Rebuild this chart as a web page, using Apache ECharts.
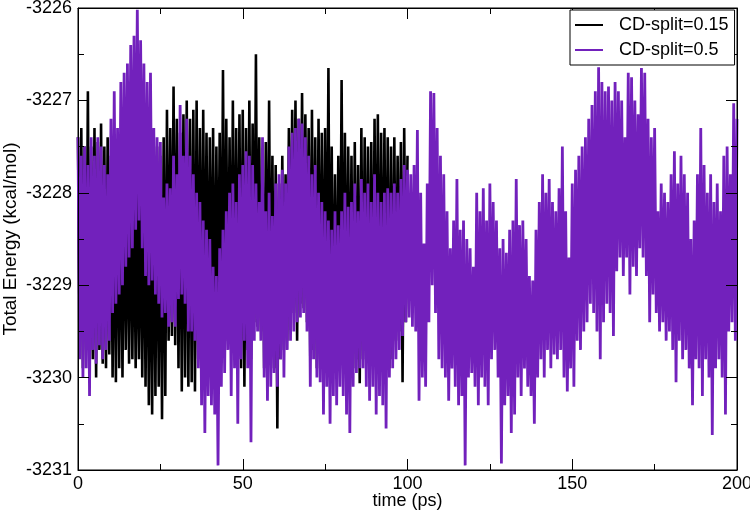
<!DOCTYPE html>
<html>
<head>
<meta charset="utf-8">
<script src="https://cdn.jsdelivr.net/npm/echarts@6/dist/echarts.min.js"></script>
<style>html,body{margin:0;padding:0;background:#fff}#c{width:750px;height:514px}</style>
</head>
<body>
<div id="c"></div>
<script>
// CD-split=0.5 : upper swings at t = 0,1,...,200 ps and lower swings at t = 0.5,1.5,...,199.5 ps
const purpleHi = [
-3227.4,-3227.6,-3227.5,-3227.7,-3227.4,-3227.6,-3227.4,-3227.5,-3227.7,-3227.8,
-3227.2,-3226.9,-3227.3,-3226.8,-3226.7,-3226.6,-3226.4,-3226.3,-3226.02,-3226.35,
-3226.6,-3226.8,-3226.7,-3227.3,-3227.4,-3227.45,-3228.05,-3227.9,-3227.95,-3227.6,
-3227.8,-3227.05,-3227.6,-3227.2,-3227.6,-3227.8,-3228.0,-3228.1,-3228.3,-3228.4,
-3228.5,-3228.8,-3228.9,-3228.6,-3228.4,-3228.2,-3228.0,-3227.9,-3228.1,-3227.8,
-3227.7,-3227.55,-3227.6,-3227.7,-3227.9,-3228.1,-3227.4,-3228.2,-3228.0,-3228.25,
-3227.9,-3227.8,-3227.75,-3227.9,-3227.5,-3227.35,-3227.3,-3227.2,-3227.25,-3227.4,
-3227.6,-3227.8,-3227.7,-3228.0,-3228.1,-3228.2,-3228.3,-3228.4,-3228.2,-3228.35,
-3228.2,-3228.0,-3228.15,-3228.1,-3227.9,-3228.2,-3227.85,-3228.0,-3227.9,-3228.1,
-3227.8,-3228.0,-3228.1,-3228.0,-3227.95,-3228.0,-3227.9,-3228.0,-3227.85,-3227.7,
-3227.75,-3227.8,-3227.7,-3227.32,-3228.0,-3228.55,-3227.9,-3226.9,-3226.92,-3227.3,
-3227.6,-3227.8,-3228.2,-3228.6,-3228.3,-3227.85,-3228.4,-3228.3,-3228.5,-3228.6,
-3228.8,-3228.0,-3228.2,-3227.95,-3228.3,-3227.9,-3228.1,-3228.3,-3228.6,-3228.5,
-3228.65,-3228.4,-3228.3,-3227.85,-3228.35,-3228.3,-3228.5,-3228.9,-3228.95,-3228.4,
-3228.1,-3227.8,-3228.0,-3227.85,-3228.1,-3228.2,-3227.95,-3227.5,-3228.2,-3228.7,
-3227.9,-3227.75,-3227.6,-3227.5,-3227.4,-3227.2,-3227.05,-3226.9,-3226.64,-3226.8,
-3226.9,-3226.85,-3227.0,-3226.8,-3226.9,-3227.0,-3227.4,-3226.7,-3226.75,-3227.0,
-3227.15,-3226.65,-3226.7,-3227.2,-3227.4,-3227.3,-3228.2,-3227.9,-3228.0,-3228.1,
-3227.8,-3227.55,-3227.9,-3227.6,-3227.8,-3228.0,-3228.5,-3228.3,-3227.8,-3227.3,
-3227.7,-3228.0,-3227.8,-3228.1,-3227.9,-3228.2,-3227.6,-3227.5,-3227.8,-3227.03,
-3227.2
];
const purpleLo = [
-3229.8,-3230.0,-3229.9,-3230.2,-3229.7,-3229.85,-3229.65,-3229.8,-3229.7,-3229.6,
-3229.3,-3229.2,-3229.1,-3229.0,-3228.8,-3228.7,-3228.6,-3228.4,-3228.3,-3228.6,
-3228.9,-3229.0,-3228.95,-3229.1,-3229.2,-3229.35,-3229.3,-3229.45,-3229.4,-3229.45,
-3229.15,-3229.1,-3229.2,-3229.5,-3229.5,-3229.6,-3229.9,-3230.3,-3230.6,-3230.2,
-3230.3,-3230.4,-3230.95,-3230.1,-3229.95,-3229.7,-3230.2,-3229.9,-3230.5,-3229.8,
-3229.6,-3229.9,-3230.7,-3229.6,-3229.5,-3229.6,-3230.0,-3230.25,-3230.1,-3229.95,
-3230.1,-3229.8,-3230.0,-3229.7,-3229.6,-3229.5,-3229.4,-3229.35,-3229.3,-3229.5,
-3230.1,-3229.8,-3230.0,-3230.05,-3230.4,-3230.1,-3230.5,-3230.2,-3230.3,-3230.1,
-3230.2,-3230.4,-3230.6,-3230.1,-3229.95,-3229.9,-3229.9,-3230.1,-3230.25,-3230.1,
-3230.4,-3230.2,-3230.3,-3230.55,-3230.0,-3229.9,-3229.8,-3229.7,-3229.55,-3229.4,
-3229.35,-3229.45,-3229.5,-3230.25,-3230.0,-3230.1,-3229.4,-3229.0,-3229.3,-3229.8,
-3229.9,-3230.0,-3230.25,-3229.9,-3230.1,-3230.3,-3230.2,-3230.95,-3230.0,-3229.95,
-3230.1,-3230.3,-3230.0,-3230.1,-3230.3,-3229.8,-3229.7,-3230.0,-3230.93,-3230.3,
-3230.2,-3230.6,-3230.4,-3230.0,-3230.2,-3229.9,-3230.1,-3230.2,-3230.5,-3230.0,
-3229.8,-3230.0,-3229.7,-3229.9,-3229.75,-3229.8,-3229.7,-3230.0,-3230.15,-3229.9,
-3230.1,-3229.6,-3229.7,-3229.5,-3229.4,-3229.2,-3229.3,-3229.5,-3229.8,-3229.4,
-3229.2,-3229.3,-3229.55,-3228.85,-3228.7,-3228.9,-3228.7,-3229.1,-3228.8,-3228.9,
-3228.6,-3228.7,-3228.9,-3229.4,-3229.1,-3229.3,-3229.5,-3229.4,-3229.6,-3229.5,
-3229.7,-3230.05,-3229.6,-3229.8,-3229.7,-3229.9,-3230.3,-3229.8,-3229.9,-3230.2,
-3229.8,-3230.0,-3230.62,-3229.9,-3229.8,-3230.0,-3230.4,-3229.5,-3229.4,-3229.6
];
// CD-split=0.15 : upper swings at t = 0..100 ps, lower swings at t = 0.5..99.5 ps
const blackHi = [
-3227.4,-3227.3,-3227.5,-3226.9,-3227.5,-3227.3,-3227.45,-3227.25,-3227.5,-3227.4,
-3227.6,-3227.8,-3227.5,-3227.7,-3227.6,-3227.8,-3227.7,-3227.9,-3228.0,-3227.8,
-3227.7,-3227.6,-3227.8,-3227.6,-3227.5,-3227.6,-3227.4,-3227.1,-3227.3,-3226.85,
-3227.2,-3227.35,-3227.15,-3227.0,-3227.2,-3227.1,-3227.0,-3227.3,-3227.1,-3227.35,
-3227.4,-3227.3,-3227.5,-3227.35,-3226.67,-3227.2,-3227.4,-3227.0,-3227.3,-3227.15,
-3227.1,-3227.3,-3227.0,-3227.25,-3226.5,-3227.4,-3227.6,-3227.45,-3227.0,-3227.6,
-3227.7,-3227.9,-3227.6,-3227.8,-3227.3,-3227.1,-3227.0,-3227.2,-3226.92,-3227.15,
-3227.3,-3227.1,-3227.4,-3227.2,-3227.35,-3227.3,-3226.65,-3227.5,-3227.8,-3227.6,
-3226.78,-3227.35,-3227.5,-3227.6,-3227.45,-3227.7,-3227.3,-3227.4,-3227.5,-3227.45,
-3227.2,-3227.15,-3227.35,-3227.3,-3227.4,-3227.5,-3227.4,-3227.6,-3227.45,-3227.3,
-3227.6
];
const blackLo = [
-3229.6,-3229.9,-3229.7,-3230.05,-3229.8,-3230.0,-3229.7,-3229.85,-3229.9,-3229.75,
-3230.0,-3230.05,-3229.9,-3230.0,-3229.7,-3229.85,-3229.8,-3229.9,-3229.8,-3230.0,
-3230.1,-3230.3,-3230.4,-3230.2,-3230.1,-3230.45,-3230.2,-3229.6,-3229.55,-3229.65,
-3229.9,-3230.15,-3230.0,-3230.1,-3230.05,-3230.15,-3229.8,-3229.9,-3229.7,-3229.8,
-3229.7,-3229.9,-3229.6,-3229.8,-3229.7,-3229.6,-3229.6,-3229.8,-3229.7,-3229.9,
-3230.1,-3229.7,-3229.8,-3229.4,-3229.45,-3229.5,-3229.9,-3229.7,-3229.8,-3229.9,
-3230.55,-3229.8,-3229.7,-3229.6,-3229.4,-3229.3,-3229.6,-3229.2,-3229.25,-3229.4,
-3229.8,-3229.7,-3229.9,-3229.8,-3229.9,-3229.7,-3229.8,-3229.9,-3229.8,-3229.7,
-3229.9,-3229.8,-3229.7,-3229.9,-3229.8,-3230.06,-3229.8,-3229.7,-3229.9,-3229.8,
-3229.7,-3229.9,-3229.8,-3229.7,-3229.9,-3229.8,-3229.6,-3229.5,-3230.05,-3229.4
];
const seriesNames = ['CD-split=0.15', 'CD-split=0.5'];
const xTicks = {min: 0, max: 200, interval: 50};
const yTicks = {min: -3231, max: -3226, interval: 1};

function weave(hi, lo) {
  const out = [];
  for (let i = 0; i < hi.length; i++) {
    out.push([i, hi[i]]);
    if (i < lo.length) out.push([i + 0.5, lo[i]]);
  }
  return out;
}

const FONT = 'Liberation Sans';
const axisCommon = {
  type: 'value', z: 5,
  axisLine: {show: true, onZero: false, lineStyle: {color: '#000', width: 1}},
  axisTick: {show: true, inside: true, length: 11, lineStyle: {color: '#000', width: 1}},
  minorTick: {show: true, splitNumber: 2, length: 6, lineStyle: {color: '#000', width: 1}},
  splitLine: {show: false},
  minorSplitLine: {show: false}
};

const chart = echarts.init(document.getElementById('c'), null, {renderer: 'canvas'});
chart.setOption({
  animation: false,
  backgroundColor: '#fff',
  grid: {left: 78, right: 13, top: 8, bottom: 44, containLabel: false, outerBoundsMode: 'none',
         show: true, borderColor: '#000', borderWidth: 1, backgroundColor: '#fff'},
  legend: {
    data: seriesNames, orient: 'vertical', left: 570, top: 10,
    icon: 'rect', itemWidth: 28, itemHeight: 2, itemGap: 5, padding: [5, 6, 5, 5],
    borderColor: '#000', borderWidth: 1, backgroundColor: '#fff', borderRadius: 0,
    selectedMode: false, z: 10,
    textStyle: {fontSize: 18, fontFamily: FONT, color: '#000', lineHeight: 20, padding: [0, 0, 0, 11]}
  },
  xAxis: [
    Object.assign({}, axisCommon, {
      min: xTicks.min, max: xTicks.max, interval: xTicks.interval, position: 'bottom',
      axisLabel: {color: '#000', fontSize: 18, fontFamily: FONT, margin: 5},
      name: 'time (ps)', nameLocation: 'middle', nameGap: 22, nameMoveOverlap: false,
      nameTextStyle: {color: '#000', fontSize: 18, fontFamily: FONT}
    }),
    Object.assign({}, axisCommon, {
      min: xTicks.min, max: xTicks.max, interval: xTicks.interval, position: 'top',
      axisLabel: {show: false}
    })
  ],
  yAxis: [
    Object.assign({}, axisCommon, {
      min: yTicks.min, max: yTicks.max, interval: yTicks.interval, position: 'left',
      axisLabel: {color: '#000', fontSize: 18, fontFamily: FONT, margin: 6, formatter: v => String(v)},
      name: 'Total Energy (kcal/mol)', nameLocation: 'middle', nameGap: 58, nameMoveOverlap: false,
      nameTextStyle: {color: '#000', fontSize: 19, fontFamily: FONT}
    }),
    Object.assign({}, axisCommon, {
      min: yTicks.min, max: yTicks.max, interval: yTicks.interval, position: 'right',
      axisLabel: {show: false}
    })
  ],
  series: [
    {
      name: seriesNames[0], type: 'line', data: weave(blackHi, blackLo),
      symbol: 'none', showSymbol: false, sampling: null, clip: true,
      color: '#000', lineStyle: {color: '#000', width: 2.6, join: 'bevel'}
    },
    {
      name: seriesNames[1], type: 'line', data: weave(purpleHi, purpleLo),
      symbol: 'none', showSymbol: false, sampling: null, clip: true,
      color: '#7221bc', lineStyle: {color: '#7221bc', width: 2.8, join: 'bevel'}
    }
  ]
});
</script>
</body>
</html>
